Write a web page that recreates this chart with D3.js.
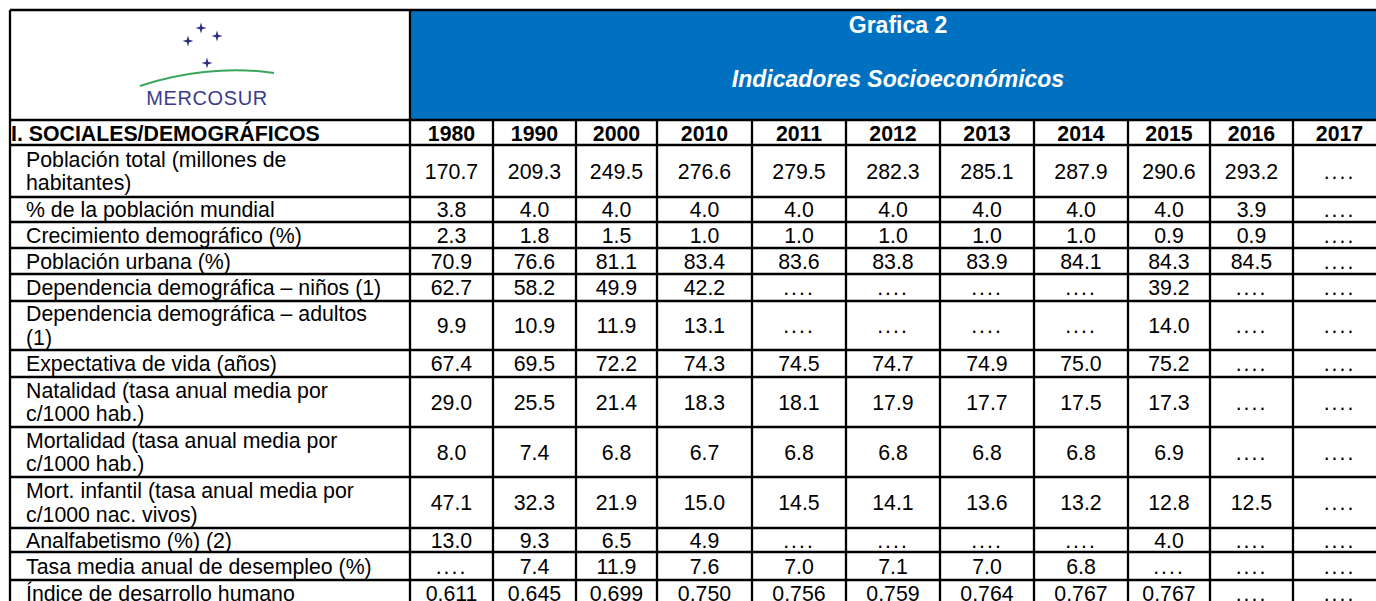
<!DOCTYPE html>
<html>
<head>
    <title>Indicadores Socioeconómicos</title>
    <script src="https://d3js.org/d3.v7.min.js"></script>
    <style>
        body { margin: 0; background: #fff; }
        text { font-family: "Liberation Sans", Arial, Helvetica, sans-serif; }
    </style>
</head>
<body>
<script>
// ---- data ----
var years = ["1980", "1990", "2000", "2010", "2011", "2012", "2013", "2014", "2015", "2016", "2017"];

var sectionTitle = "I. SOCIALES/DEMOGRÁFICOS";
var chartTitle = "Grafica 2";
var chartSubtitle = "Indicadores Socioeconómicos";

var labels = [
    ["Población total (millones de", "habitantes)"],
    ["% de la población mundial"],
    ["Crecimiento demográfico (%)"],
    ["Población urbana (%)"],
    ["Dependencia demográfica – niños (1)"],
    ["Dependencia demográfica – adultos", "(1)"],
    ["Expectativa de vida (años)"],
    ["Natalidad (tasa anual media por", "c/1000 hab.)"],
    ["Mortalidad (tasa anual media por", "c/1000 hab.)"],
    ["Mort. infantil (tasa anual media por", "c/1000 nac. vivos)"],
    ["Analfabetismo (%) (2)"],
    ["Tasa media anual de desempleo (%)"],
    ["Índice de desarrollo humano"]
];

// null = sin dato ("....")
var poblacionTotal = [170.7, 209.3, 249.5, 276.6, 279.5, 282.3, 285.1, 287.9, 290.6, 293.2, null];
var pctMundial     = [3.8, 4.0, 4.0, 4.0, 4.0, 4.0, 4.0, 4.0, 4.0, 3.9, null];
var crecimiento    = [2.3, 1.8, 1.5, 1.0, 1.0, 1.0, 1.0, 1.0, 0.9, 0.9, null];
var urbana         = [70.9, 76.6, 81.1, 83.4, 83.6, 83.8, 83.9, 84.1, 84.3, 84.5, null];
var depNinos       = [62.7, 58.2, 49.9, 42.2, null, null, null, null, 39.2, null, null];
var depAdultos     = [9.9, 10.9, 11.9, 13.1, null, null, null, null, 14.0, null, null];
var expectativa    = [67.4, 69.5, 72.2, 74.3, 74.5, 74.7, 74.9, 75.0, 75.2, null, null];
var natalidad      = [29.0, 25.5, 21.4, 18.3, 18.1, 17.9, 17.7, 17.5, 17.3, null, null];
var mortalidad     = [8.0, 7.4, 6.8, 6.7, 6.8, 6.8, 6.8, 6.8, 6.9, null, null];
var mortInfantil   = [47.1, 32.3, 21.9, 15.0, 14.5, 14.1, 13.6, 13.2, 12.8, 12.5, null];
var analfabetismo  = [13.0, 9.3, 6.5, 4.9, null, null, null, null, 4.0, null, null];
var desempleo      = [null, 7.4, 11.9, 7.6, 7.0, 7.1, 7.0, 6.8, null, null, null];
var idh            = [0.611, 0.645, 0.699, 0.750, 0.756, 0.759, 0.764, 0.767, 0.767, null, null];

var series = [poblacionTotal, pctMundial, crecimiento, urbana, depNinos, depAdultos,
    expectativa, natalidad, mortalidad, mortInfantil, analfabetismo, desempleo, idh];
var decimals = [1, 1, 1, 1, 1, 1, 1, 1, 1, 1, 1, 1, 3];

// ---- layout ----
var width = 1376, height = 601;
var marginLeft = 10, marginTop = 10;
var labelWidth = 400;
var colWidths = [83, 83, 81, 95, 94, 94, 94, 94, 82, 83, 93];
var headerHeight = 110, yearRowHeight = 25;
var rowHeights = [52, 25, 26, 26, 27, 49, 27, 50, 50, 51, 24, 28, 26];
var fontSize = 21.3, lineHeight = 23.5;
var stroke = 2.3;
var blue = "#0070c0";

var colX = [marginLeft + labelWidth];
colWidths.forEach(function(cw, i) { colX.push(colX[i] + cw); });
var x = d3.scaleOrdinal().domain(years).range(colX.slice(0, -1));
var w = d3.scaleOrdinal().domain(years).range(colWidths);
var tableRight = colX[colX.length - 1];

var bodyTop = marginTop + headerHeight + yearRowHeight;
var rowY = [bodyTop];
rowHeights.forEach(function(rh, i) { rowY.push(rowY[i] + rh); });
var rowIdx = d3.range(labels.length);
var y = d3.scaleOrdinal().domain(rowIdx).range(rowY.slice(0, -1));
var h = d3.scaleOrdinal().domain(rowIdx).range(rowHeights);

var svg = d3.select("body").append("svg")
    .attr("width", width)
    .attr("height", height);

// header
svg.append("rect")
    .attr("x", marginLeft + labelWidth).attr("y", marginTop)
    .attr("width", tableRight - marginLeft - labelWidth).attr("height", headerHeight)
    .attr("fill", blue);

var titleX = (marginLeft + labelWidth + tableRight) / 2;
svg.append("text")
    .attr("x", titleX).attr("y", marginTop + 23)
    .attr("text-anchor", "middle")
    .attr("fill", "#fff")
    .style("font-size", "23px").style("font-weight", "bold")
    .text(chartTitle);
svg.append("text")
    .attr("x", titleX).attr("y", marginTop + 77)
    .attr("text-anchor", "middle")
    .attr("fill", "#fff")
    .style("font-size", "23px").style("font-weight", "bold").style("font-style", "italic")
    .text(chartSubtitle);

// logo
var logo = svg.append("g");
function star(r) {
    var k = r * 0.22;
    return "M0," + (-r) + "L" + k + "," + (-k) + "L" + r + ",0L" + k + "," + k +
        "L0," + r + "L" + (-k) + "," + k + "L" + (-r) + ",0L" + (-k) + "," + (-k) + "Z";
}
[[201, 28], [188, 41], [217, 36], [207, 63]].forEach(function(p) {
    logo.append("path")
        .attr("transform", "translate(" + p[0] + "," + p[1] + ")")
        .attr("d", star(5.5))
        .attr("fill", "#2e2e80");
});
logo.append("path")
    .attr("d", "M140,86 C178,73 228,66 274,73")
    .attr("fill", "none")
    .attr("stroke", "#3aa65a")
    .attr("stroke-width", 2);
logo.append("text")
    .attr("x", 207).attr("y", 105)
    .attr("text-anchor", "middle")
    .attr("fill", "#3b3b8c")
    .style("font-size", "20px").style("letter-spacing", "0.6px")
    .text("MERCOSUR");

// year row
svg.append("text")
    .attr("x", marginLeft + 1).attr("y", marginTop + headerHeight + 21)
    .style("font-size", fontSize + "px").style("font-weight", "bold")
    .text(sectionTitle);

svg.selectAll(".year")
    .data(years)
    .enter().append("text")
    .attr("class", "year")
    .attr("x", function(d) { return x(d) + w(d) / 2; })
    .attr("y", marginTop + headerHeight + 21)
    .attr("text-anchor", "middle")
    .style("font-size", fontSize + "px").style("font-weight", "bold")
    .text(function(d) { return d; });

// body rows
var row = svg.selectAll(".row")
    .data(rowIdx)
    .enter().append("g")
    .attr("class", "row");

row.append("text")
    .attr("class", "label")
    .style("font-size", fontSize + "px")
    .selectAll("tspan")
    .data(function(i) {
        return labels[i].map(function(t, j) { return { row: i, line: j, n: labels[i].length, t: t }; });
    })
    .enter().append("tspan")
    .attr("x", marginLeft + 16)
    .attr("y", function(d) {
        var c = y(d.row) + h(d.row) / 2;
        return c - (d.n - 1) * lineHeight / 2 + d.line * lineHeight + fontSize * 0.36;
    })
    .text(function(d) { return d.t; });

row.selectAll(".val")
    .data(function(i) {
        return series[i].map(function(v, j) { return { row: i, year: years[j], v: v }; });
    })
    .enter().append("text")
    .attr("class", "val")
    .attr("x", function(d) { return x(d.year) + w(d.year) / 2; })
    .attr("y", function(d) { return y(d.row) + h(d.row) / 2 + fontSize * 0.36; })
    .attr("text-anchor", "middle")
    .style("font-size", fontSize + "px")
    .style("letter-spacing", function(d) { return d.v == null ? "2px" : null; })
    .text(function(d) { return d.v == null ? "...." : d.v.toFixed(decimals[d.row]); });

// grid lines
var grid = svg.append("g")
    .attr("stroke", "#000")
    .attr("stroke-width", stroke)
    .attr("fill", "none");

var hLines = [marginTop, marginTop + headerHeight].concat(rowY);
grid.selectAll(".h")
    .data(hLines)
    .enter().append("line")
    .attr("x1", marginLeft).attr("x2", tableRight)
    .attr("y1", function(d) { return d; }).attr("y2", function(d) { return d; });

grid.append("line")
    .attr("x1", marginLeft).attr("x2", marginLeft)
    .attr("y1", marginTop).attr("y2", rowY[rowY.length - 1]);

grid.selectAll(".v")
    .data(colX)
    .enter().append("line")
    .attr("x1", function(d) { return d; }).attr("x2", function(d) { return d; })
    .attr("y1", function(d, i) { return i === 0 ? marginTop : marginTop + headerHeight; })
    .attr("y2", rowY[rowY.length - 1]);
</script>
</body>
</html>
